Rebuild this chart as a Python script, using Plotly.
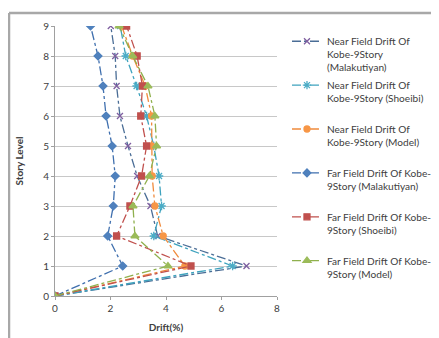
import plotly.graph_objects as go

levels = [0, 1, 2, 3, 4, 5, 6, 7, 8, 9]
near_malakutiyan = [0, 6.9, 3.7, 3.44, 2.96, 2.63, 2.34, 2.22, 2.17, 2.01]
near_shoeibi = [0, 6.4, 3.56, 3.84, 3.75, 3.56, 3.3, 2.94, 2.55, 2.35]
near_model = [0, 4.68, 3.9, 3.6, 3.5, 3.48, 3.48, 3.25, 2.8, 2.4]
far_malakutiyan = [0, 2.44, 1.9, 2.1, 2.17, 2.06, 1.84, 1.73, 1.55, 1.28]
far_shoeibi = [0, 4.9, 2.22, 2.7, 3.12, 3.3, 3.09, 3.15, 2.96, 2.58]
far_model = [0, 4.07, 2.88, 2.81, 3.4, 3.66, 3.6, 3.35, 2.8, 2.31]

names = [
    "Near Field Drift Of<br>Kobe-9Story<br>(Malakutiyan)",
    "Near Field Drift Of<br>Kobe-9Story (Shoeibi)<br> ",
    "Near Field Drift Of<br>Kobe-9Story (Model)<br> ",
    "Far Field Drift Of Kobe-<br>9Story (Malakutiyan)<br> ",
    "Far Field Drift Of Kobe-<br>9Story (Shoeibi)<br> ",
    "Far Field Drift Of Kobe-<br>9Story (Model)<br> ",
]
series = [near_malakutiyan, near_shoeibi, near_model, far_malakutiyan, far_shoeibi, far_model]
line_colors = ["#4A6D96", "#3FA3BE", "#F08A3C", "#3F6FAE", "#C0504D", "#8FB04E"]
marker_colors = ["#7F5FA0", "#4BACC6", "#F79646", "#4F81BD", "#C0504D", "#9BBB59"]
symbols = ["x-thin-open", "asterisk-open", "circle", "diamond", "square", "triangle-up"]
sizes = [6, 7, 6, 6, 6, 7]

fig = go.Figure()
for i, (nm, vals) in enumerate(zip(names, series)):
    fig.add_trace(go.Scatter(
        x=vals, y=levels, name=nm, mode="lines+markers",
        legendgroup=f"g{i}",
        line=dict(color=line_colors[i], width=1.3, dash="dashdot"),
        marker=dict(symbol=symbols[i], size=sizes[i], color=marker_colors[i],
                    line=dict(color=marker_colors[i], width=1.3)),
    ))

font = "Lato, sans-serif"
fig.update_layout(
    width=431, height=330,
    margin=dict(l=47, r=162, t=18, b=42, autoexpand=False),
    paper_bgcolor="white", plot_bgcolor="white",
    font=dict(family=font, size=10, color="#404040"),
    showlegend=True,
    legend=dict(x=1.045, y=0.992, xanchor="left", yanchor="top",
                valign="top", tracegroupgap=1.5,
                font=dict(size=10.1, color="#404040"), bgcolor="rgba(0,0,0,0)"),
    xaxis=dict(range=[0, 8], dtick=2, showgrid=False, zeroline=False,
               showline=True, linecolor="#A0A0A0", linewidth=1,
               ticks="outside", ticklen=3, tickcolor="#A0A0A0", automargin=False,
               title=dict(text="<b>Drift(%)</b>", font=dict(size=10), standoff=10),
               tickfont=dict(size=10)),
    yaxis=dict(range=[0, 9], dtick=1, showgrid=True, gridcolor="#C8C8C8", gridwidth=1,
               zeroline=False, showline=True, linecolor="#A0A0A0", linewidth=1,
               ticks="outside", ticklen=3, tickcolor="#A0A0A0", automargin=False,
               title=dict(text="<b>Story Level</b>", font=dict(size=10), standoff=17),
               tickfont=dict(size=10)),
)
fig.add_shape(type="line", xref="paper", yref="paper", layer="above",
              x0=-46 / 222, x1=-46 / 222, y0=-42 / 270, y1=1 + 13 / 270,
              line=dict(color="#A8A8A8", width=2.5))
fig.add_shape(type="line", xref="paper", yref="paper", layer="above",
              x0=-46 / 222, x1=384 / 222, y0=1 + 13 / 270, y1=1 + 13 / 270,
              line=dict(color="#A8A8A8", width=2.5))
fig.write_html("out.html")
